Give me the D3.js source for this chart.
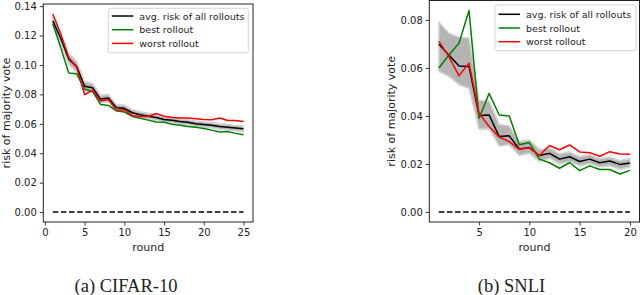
<!DOCTYPE html>
<html><head><meta charset="utf-8">
<script src="https://cdn.jsdelivr.net/npm/d3@7"></script>
<style>body{margin:0;background:#fff}svg{display:block}</style>
</head><body>
<svg id="c" width="640" height="295"></svg>
<script>
// ---- data ----
const roundsA = d3.range(1, 26);
const avgA   = [0.130,0.118,0.104,0.099,0.0855,0.0845,0.0768,0.0775,0.0710,0.0705,0.0675,0.0662,0.0652,0.0643,0.0630,0.0624,0.0615,0.0610,0.0600,0.0595,0.0590,0.0582,0.0577,0.0571,0.0566];
const bestA  = [0.128,0.1117,0.0945,0.094,0.0835,0.0820,0.0732,0.0725,0.0688,0.0680,0.0650,0.0638,0.0625,0.0612,0.0610,0.0597,0.0591,0.0582,0.0577,0.0568,0.0557,0.0545,0.0548,0.0535,0.0525];
const worstA = [0.1347,0.121,0.105,0.0985,0.0798,0.0827,0.0755,0.0766,0.0690,0.0695,0.0655,0.0650,0.0650,0.0670,0.0652,0.0645,0.0640,0.0640,0.0635,0.0630,0.0627,0.0640,0.0622,0.0622,0.0615];
const hiA    = [0.1335,0.1215,0.1075,0.1025,0.0885,0.0875,0.0793,0.0800,0.0732,0.0727,0.0695,0.0682,0.0672,0.0662,0.0648,0.0642,0.0633,0.0628,0.0618,0.0613,0.0608,0.0600,0.0595,0.0589,0.0584];
const loA    = [0.1265,0.1145,0.1005,0.0955,0.0825,0.0815,0.0743,0.0750,0.0688,0.0683,0.0655,0.0642,0.0632,0.0624,0.0612,0.0606,0.0597,0.0592,0.0582,0.0577,0.0572,0.0564,0.0559,0.0553,0.0548];
const xTicksA = [0,5,10,15,20,25];
const yTicksA = [0,0.02,0.04,0.06,0.08,0.10,0.12,0.14];

const roundsB = d3.range(1, 21);
const avgB   = [0.0699,0.0654,0.0608,0.0606,0.0402,0.0404,0.0314,0.0317,0.0262,0.0268,0.0235,0.0244,0.0220,0.0230,0.0210,0.0220,0.0205,0.0212,0.0198,0.0204];
const bestB  = [0.0600,0.0654,0.0703,0.0839,0.0390,0.0494,0.0404,0.0400,0.0280,0.0289,0.0220,0.0205,0.0182,0.0206,0.0172,0.0192,0.0177,0.0177,0.0158,0.0173];
const worstB = [0.0711,0.0647,0.0567,0.0620,0.0411,0.0356,0.0312,0.0293,0.0261,0.0267,0.0235,0.0277,0.0259,0.0279,0.0250,0.0247,0.0232,0.0251,0.0241,0.0240];
const hiB    = [0.0790,0.0745,0.0728,0.0725,0.0465,0.0462,0.0365,0.0358,0.0293,0.0300,0.0260,0.0266,0.0242,0.0250,0.0230,0.0238,0.0222,0.0228,0.0214,0.0222];
const loB    = [0.0585,0.0565,0.0530,0.0515,0.0345,0.0346,0.0275,0.0280,0.0235,0.0244,0.0210,0.0224,0.0200,0.0210,0.0192,0.0202,0.0187,0.0192,0.0178,0.0186];
const xTicksB = [5,10,15,20];
const yTicksB = [0,0.02,0.04,0.06,0.08];

const legendLabels = ["avg. risk of all rollouts","best rollout","worst rollout"];
const colors = ["#000000","#008000","#ff0000"];
const yLabel = "risk of majority vote";
const xLabel = "round";
const captions = ["(a) CIFAR-10","(b) SNLI"];

// ---- drawing ----
const svg = d3.select("#c");
const sans = "DejaVu Sans, sans-serif";

function panel(cfg){
  const g = svg.append("g");
  const rounds = cfg.rounds;
  const xmin = d3.min(rounds), xmax = d3.max(rounds), xs = xmax - xmin;
  const ymax = d3.max([...cfg.avg, ...cfg.best, ...cfg.worst, ...cfg.hi]);
  const x = d3.scaleLinear().domain([xmin - 0.05*xs, xmax + 0.05*xs]).range(cfg.xr);
  const y = d3.scaleLinear().domain([-0.05*ymax, ymax*1.05]).range(cfg.yr);

  const clipId = "clip" + cfg.id;
  svg.append("clipPath").attr("id", clipId).append("rect")
    .attr("x", cfg.xr[0]).attr("y", cfg.yr[1]).attr("width", cfg.xr[1]-cfg.xr[0]).attr("height", cfg.yr[0]-cfg.yr[1]);
  const plot = g.append("g").attr("clip-path", `url(#${clipId})`);

  const area = d3.area().x((d,i)=>x(rounds[i])).y0((d,i)=>y(cfg.lo[i])).y1((d,i)=>y(cfg.hi[i]));
  plot.append("path").datum(cfg.hi).attr("d", area)
    .attr("fill", "#b4b4b4").attr("stroke", "#d4d4d4").attr("stroke-width", 1.6).attr("stroke-linejoin","round");

  const line = d3.line().x((d,i)=>x(rounds[i])).y(d=>y(d));
  // zero dashed line
  plot.append("line").attr("x1", x(xmin)).attr("x2", x(xmax)).attr("y1", y(0)).attr("y2", y(0))
    .attr("stroke", "#000").attr("stroke-width", 1.5).attr("stroke-dasharray", "5.5,2.6");
  [cfg.avg, cfg.best, cfg.worst].forEach((s, k) => {
    plot.append("path").datum(s).attr("d", line).attr("fill", "none")
      .attr("stroke", colors[k]).attr("stroke-width", 1.5).attr("stroke-linejoin","round");
  });
  // redraw avg on top for first panel order: black drawn first in matplotlib; keep order avg,best,worst

  // axes
  const ax = g.append("g").attr("transform", `translate(0,${cfg.yr[0]})`)
    .call(d3.axisBottom(x).tickValues(cfg.xTicks).tickSize(3.5).tickPadding(3).tickFormat(d3.format("d")));
  const ay = g.append("g").attr("transform", `translate(${cfg.xr[0]},0)`)
    .call(d3.axisLeft(y).tickValues(cfg.yTicks).tickSize(3.5).tickPadding(3).tickFormat(d3.format(".2f")));
  [ax, ay].forEach(a => {
    a.select(".domain").remove();
    a.selectAll("text").attr("font-family", sans).attr("font-size", 10).attr("fill", "#222");
    a.selectAll("line").attr("stroke", "#222").attr("stroke-width", 0.9);
  });
  // frame
  g.append("rect").attr("x", cfg.xr[0]).attr("y", cfg.yr[1]).attr("width", cfg.xr[1]-cfg.xr[0]).attr("height", cfg.yr[0]-cfg.yr[1])
    .attr("fill", "none").attr("stroke", "#222").attr("stroke-width", 1);

  // labels
  g.append("text").attr("x", (cfg.xr[0]+cfg.xr[1])/2).attr("y", 250.5).attr("text-anchor","middle")
    .attr("font-family", sans).attr("font-size", 11).attr("fill","#222").text(xLabel);
  g.append("text").attr("transform", `translate(${cfg.ylx},${(cfg.yr[0]+cfg.yr[1])/2}) rotate(-90)`)
    .attr("text-anchor","middle").attr("font-family", sans).attr("font-size", 11).attr("fill","#222").text(yLabel);

  // legend
  const L = cfg.legend;
  g.append("rect").attr("x", L.x).attr("y", L.y).attr("width", L.w).attr("height", L.h).attr("rx", 2)
    .attr("fill", "#fff").attr("fill-opacity", 0.85).attr("stroke", "#d0d0d0").attr("stroke-width", 0.9);
  legendLabels.forEach((lab, k) => {
    const cy = L.y + L.r0 + k*L.dy;
    g.append("line").attr("x1", L.x + 3.5).attr("x2", L.x + 25).attr("y1", cy).attr("y2", cy)
      .attr("stroke", colors[k]).attr("stroke-width", 1.5);
    g.append("text").attr("x", L.x + 31).attr("y", cy + 3.5).attr("font-family", sans).attr("font-size", 9.5)
      .attr("fill","#222").text(lab);
  });

  // caption
  svg.append("text").attr("x", cfg.capx).attr("y", 292).attr("text-anchor","middle")
    .attr("font-family", "Liberation Serif, serif").attr("font-size", 18.5).attr("fill","#222").text(cfg.caption);
}

panel({id:"A", rounds: roundsA, avg: avgA, best: bestA, worst: worstA, hi: hiA, lo: loA,
  xTicks: xTicksA, yTicks: yTicksA, xr: [43.3, 253], yr: [222, 4], ylx: 9.5,
  legend: {x: 108.3, y: 8.3, w: 140, h: 44.4, r0: 7.7, dy: 13.7}, capx: 126, caption: captions[0]});
panel({id:"B", rounds: roundsB, avg: avgB, best: bestB, worst: worstB, hi: hiB, lo: loB,
  xTicks: xTicksB, yTicks: yTicksB, xr: [429.3, 639.5], yr: [222, 0.5], ylx: 395,
  legend: {x: 495, y: 5, w: 141, h: 45.7, r0: 9.3, dy: 13.7}, capx: 511.5, caption: captions[1]});
</script>
</body></html>
